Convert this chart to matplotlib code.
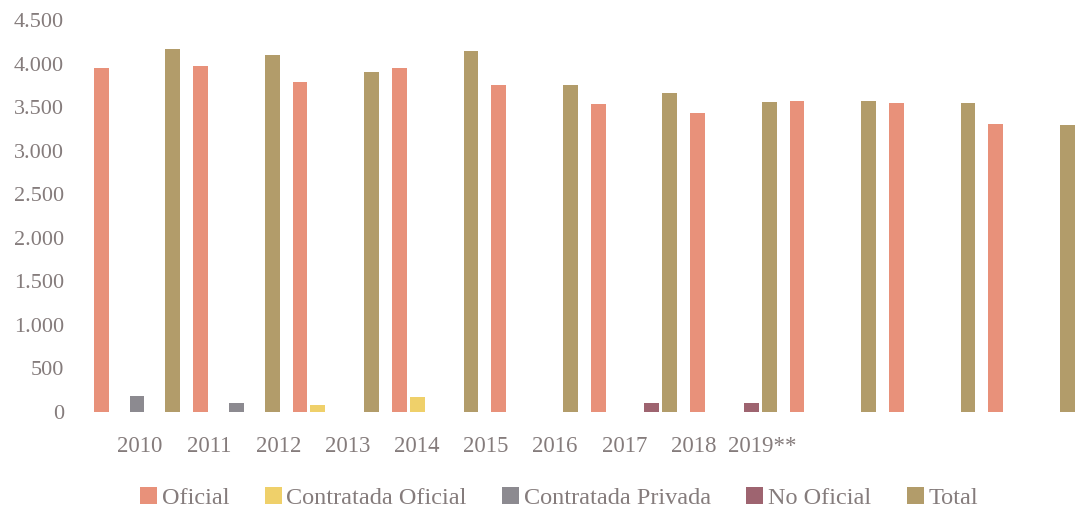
import numpy as np
import matplotlib
matplotlib.use('Agg')
import matplotlib.pyplot as plt

years = ["2010", "2011", "2012", "2013", "2014", "2015", "2016", "2017", "2018", "2019**"]
series = ["Oficial", "Contratada Oficial", "Contratada Privada", "No Oficial", "Total"]

oficial = [3947, 3967, 3794, 3947, 3751, 3533, 3437, 3571, 3552, 3303]
contratada_oficial = [0, 0, 80, 170, 0, 0, 0, 0, 0, 0]
contratada_privada = [185, 105, 0, 0, 0, 0, 0, 0, 0, 0]
no_oficial = [0, 0, 0, 0, 0, 100, 100, 0, 0, 0]
total = [4166, 4097, 3898, 4139, 3751, 3659, 3559, 3571, 3544, 3291]

colors = ['#e8917a', '#efd06a', '#8c8a90', '#9e6470', '#b29c6a']
text_col = '#857c7c'

plt.rcParams['font.family'] = ['Liberation Serif', 'DejaVu Serif']

fig = plt.figure(figsize=(10.89, 5.13), dpi=100)
ax = fig.add_axes([85/1089, 101/513, 1000/1089, 392/513])

x = np.arange(len(years))
step = 0.18
width = 0.15
data = [oficial, contratada_oficial, contratada_privada, no_oficial, total]
for k, (name, vals) in enumerate(zip(series, data)):
	ax.bar(x + (k - 2)*step, vals, width, color=colors[k], label=name)

ax.set_xlim(-0.523, -0.523 + 1000/99.4)
ax.set_ylim(0, 4500)
ax.set_yticks(np.arange(0, 4501, 500))
ax.set_yticklabels(["{:,}".format(v).replace(",", ".") for v in range(0, 4501, 500)])

# the year labels in the source are squeezed to the left of the groups
ax.set_xticks(0.03 + x*0.696)
ax.set_xticklabels(years)

ax.tick_params(axis='both', length=0, colors=text_col)
ax.tick_params(axis='y', pad=15, labelsize=16)
ax.tick_params(axis='x', pad=17, labelsize=16.5)
for s in ax.spines.values():
	s.set_visible(False)

leg = fig.legend(loc='center', bbox_to_anchor=(559/1089, 15/513), ncol=5, frameon=False,
	fontsize=17.5, handlelength=0.7, handleheight=0.7, handletextpad=0.2, columnspacing=1.45)
for t in leg.get_texts():
	t.set_color(text_col)

fig.savefig("out.png", dpi=100)
